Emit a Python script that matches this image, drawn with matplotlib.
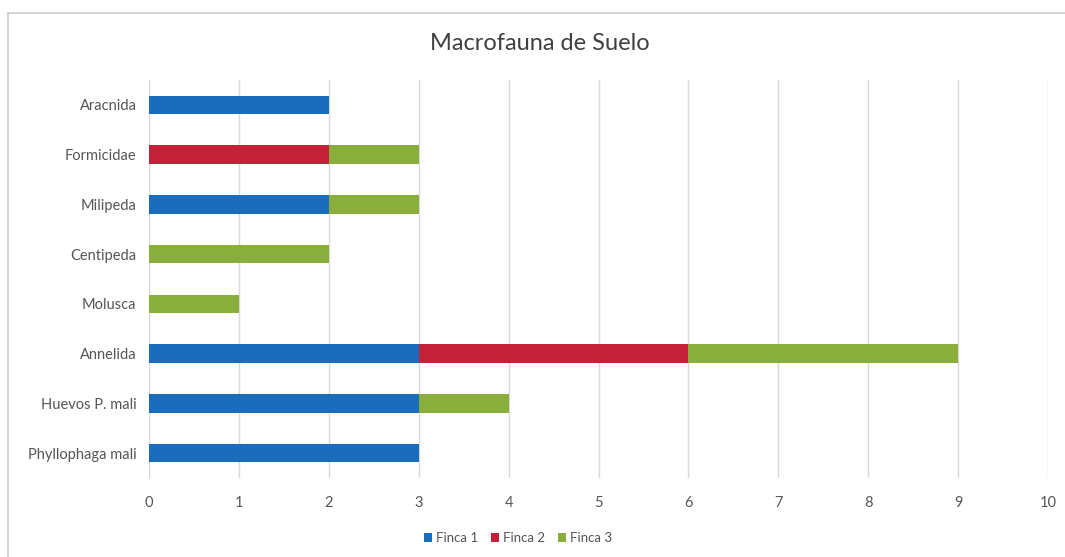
import matplotlib
matplotlib.use("Agg")
import matplotlib.pyplot as plt
from matplotlib.lines import Line2D
import numpy as np

# ---- Data ----
categorias = ["Aracnida", "Formicidae", "Milipeda", "Centipeda",
              "Molusca", "Annelida", "Huevos P. mali", "Phyllophaga mali"]
finca1 = [2, 0, 2, 0, 0, 3, 3, 3]
finca2 = [0, 2, 0, 0, 0, 3, 0, 0]
finca3 = [0, 1, 1, 2, 1, 3, 1, 0]
series = ["Finca 1", "Finca 2", "Finca 3"]
colores = ["#1b6cbd", "#c4203a", "#8aae3c"]

plt.rcParams['font.family'] = ['Lato', 'DejaVu Sans']

fig = plt.figure(figsize=(10.65, 5.57), dpi=100)
# marco del grafico (solo borde izquierdo y superior visibles)
yt = 1 - 13 / 557
xl = 8 / 1065
fig.lines.append(Line2D([xl, xl], [0, yt], transform=fig.transFigure,
                        color="#d4d4d4", linewidth=1.5))
fig.lines.append(Line2D([xl, 1], [yt, yt], transform=fig.transFigure,
                        color="#d4d4d4", linewidth=1.5))

ax = fig.add_axes([149 / 1065, 1 - 478 / 557, 899 / 1065, 398 / 557])

y = np.arange(len(categorias))
izq = np.zeros(len(categorias))
for vals, nombre, c in zip([finca1, finca2, finca3], series, colores):
    ax.barh(y, vals, left=izq, height=0.37, color=c, label=nombre, zorder=3)
    izq = izq + np.array(vals)

ax.set_xlim(0, 10)
ax.set_ylim(len(categorias) - 0.5, -0.5)
ax.set_xticks(range(0, 11))
ax.set_yticks(y)
ax.set_yticklabels(categorias)
ax.tick_params(axis="both", length=0, labelsize=10.5, colors="#555555")
ax.tick_params(axis="x", pad=13)
ax.tick_params(axis="y", pad=9)
ax.grid(axis="x", color="#d9d9d9", linewidth=1, zorder=0)
for s in ["top", "right", "bottom"]:
    ax.spines[s].set_visible(False)
ax.spines["left"].set_color("#d9d9d9")

fig.text(540 / 1065, 1 - 43 / 557, "Macrofauna de Suelo", ha="center",
         va="center", fontsize=17, color="#404040")

fig.legend(*ax.get_legend_handles_labels(), loc="center",
           bbox_to_anchor=(518 / 1065, 1 - 538 / 557), ncol=3, frameon=False,
           fontsize=9.5, handlelength=0.6, handleheight=0.6, handletextpad=0.3,
           columnspacing=1.0, labelcolor="#555555")

fig.savefig("out.png", dpi=100)
